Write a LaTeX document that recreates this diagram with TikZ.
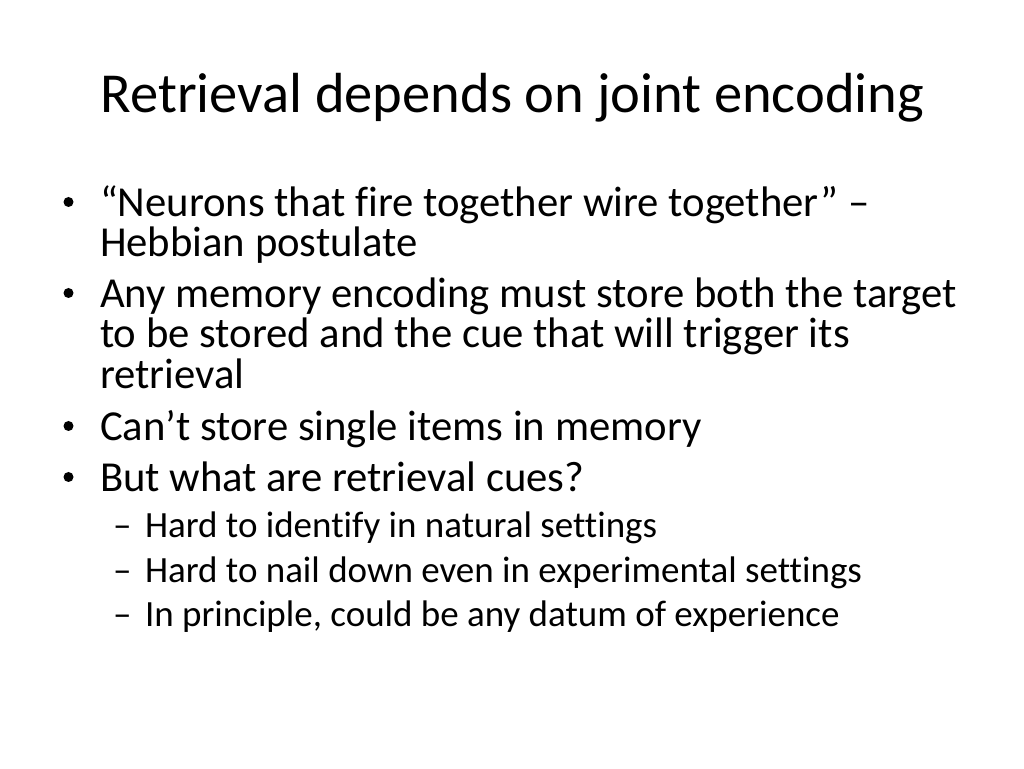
\documentclass[tikz,border=0pt]{standalone}
\usepackage{fontspec}
\setmainfont{Carlito}[Ligatures={NoCommon,NoContextual}]
\begin{document}
\begin{tikzpicture}[x=1pt,y=1pt,
  txt/.style={anchor=base west,inner sep=0pt,outer sep=0pt,font=\fontsize{42.7}{42.7}\selectfont},
  sub/.style={anchor=base west,inner sep=0pt,outer sep=0pt,font=\fontsize{37}{37}\selectfont},
  ttl/.style={anchor=base,inner sep=0pt,outer sep=0pt,font=\fontsize{56.5}{56.5}\selectfont},
  dot/.style={circle,fill=black,inner sep=0pt,minimum size=10pt}]
\useasboundingbox[fill=white] (0,0) rectangle (1024,768);
\node[ttl] (title) at (512.5,768-113) {Retrieval depends on joint encoding};
% bullets
\node[dot] (b1) at (68.5,768-217+15) {};
\node[txt] (l1) at (100,768-217) {“Neurons that fire together wire together” –};
\node[txt] (l2) at (100,768-257) {Hebbian postulate};
\node[dot] (b2) at (68.5,768-308+15) {};
\node[txt] (l3) at (100,768-308) {Any memory encoding must store both the target};
\node[txt] (l4) at (100,768-348) {to be stored and the cue that will trigger its};
\node[txt] (l5) at (100,768-389) {retrieval};
\node[dot] (b3) at (68.5,768-441+15) {};
\node[txt] (l6) at (100,768-441) {Can’t store single items in memory};
\node[dot] (b4) at (68.5,768-492+15) {};
\node[txt] (l7) at (100,768-492) {But what are retrieval cues?};
% sub-bullets
\node[sub] (d1) at (113,768-538) {–};
\node[sub] (s1) at (145,768-538) {Hard to identify in natural settings};
\node[sub] (d2) at (113,768-583) {–};
\node[sub] (s2) at (145,768-583) {Hard to nail down even in experimental settings};
\node[sub] (d3) at (113,768-626) {–};
\node[sub] (s3) at (145,768-626) {In principle, could be any datum of experience};
\end{tikzpicture}
\end{document}
